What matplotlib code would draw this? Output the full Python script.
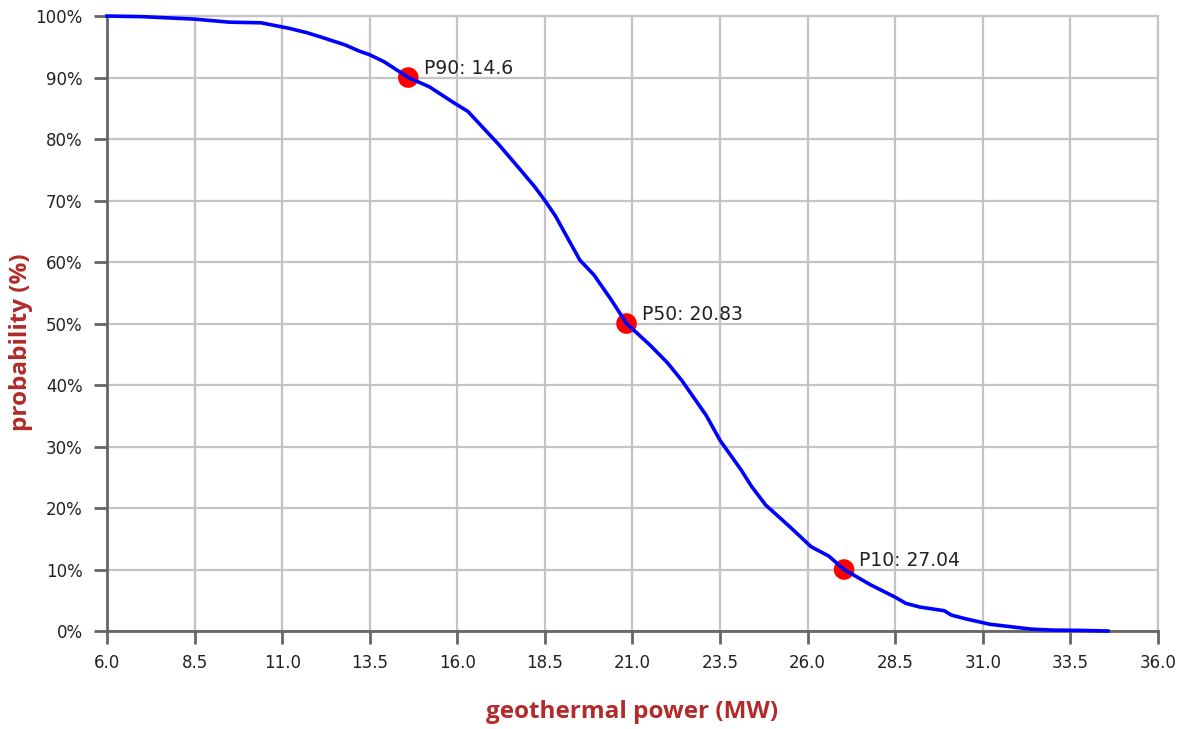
import matplotlib
matplotlib.use("Agg")
import matplotlib.pyplot as plt
from matplotlib.ticker import FuncFormatter

power_mw = [6.0, 7.0, 8.5, 9.5, 10.4, 11.2, 11.7, 12.1, 12.8, 13.2, 13.5, 13.9, 14.2, 14.6,
            15.2, 15.9, 16.3, 16.66, 17.2, 17.8, 18.2, 18.5, 18.8, 19.1, 19.5, 19.9,
            20.4, 20.83, 21.5, 22.0, 22.4, 23.1, 23.5, 24.1, 24.4, 24.8, 25.5, 26.1,
            26.6, 27.04, 27.8, 28.5, 28.8, 29.2, 29.9, 30.1, 30.5, 31.2, 31.8, 32.4,
            33.0, 33.8, 34.57]
probability = [100.0, 99.9, 99.5, 99.0, 98.9, 98.0, 97.3, 96.6, 95.3, 94.3, 93.7, 92.6, 91.5, 90.0,
               88.5, 85.9, 84.5, 82.3, 79.0, 75.0, 72.3, 70.0, 67.5, 64.4, 60.3, 57.9,
               53.8, 50.0, 46.5, 43.6, 40.8, 35.1, 31.0, 26.2, 23.5, 20.5, 16.9, 13.7,
               12.2, 10.0, 7.5, 5.5, 4.5, 3.9, 3.3, 2.6, 2.0, 1.1, 0.7, 0.3,
               0.15, 0.1, 0.0]

p_labels = ["P90", "P50", "P10"]
p_values = [14.6, 20.83, 27.04]
p_probs = [90, 50, 10]

x_ticks = [6.0, 8.5, 11.0, 13.5, 16.0, 18.5, 21.0, 23.5, 26.0, 28.5, 31.0, 33.5, 36.0]
y_ticks = [0, 10, 20, 30, 40, 50, 60, 70, 80, 90, 100]

plt.rcParams["font.family"] = ["DejaVu Sans"]

fig = plt.figure(figsize=(11.98, 7.29), dpi=100)
ax = fig.add_axes([0.0893, 0.1344, 0.8773, 0.8436])

grid_c = "#c4c4c4"
ax.set_xlim(6.0, 36.0)
ax.set_ylim(0, 100)
ax.set_xticks(x_ticks)
ax.set_yticks(y_ticks)
ax.xaxis.set_major_formatter(FuncFormatter(lambda v, p: f"{v:.1f}"))
ax.yaxis.set_major_formatter(FuncFormatter(lambda v, p: f"{int(v)}%"))
ax.grid(True, color=grid_c, linewidth=1.6)
ax.set_axisbelow(True)
for s in ["top", "right"]:
    ax.spines[s].set_color(grid_c)
    ax.spines[s].set_linewidth(1.6)
for s in ["left", "bottom"]:
    ax.spines[s].set_color("#666666")
    ax.spines[s].set_linewidth(2.0)
ax.tick_params(axis="both", direction="out", length=9.5, width=2.0, color="#666666",
               labelsize=12, labelcolor="#222222")
ax.tick_params(axis="y", pad=8)
ax.tick_params(axis="x", pad=7)

ax.plot(power_mw, probability, color="#0000ff", linewidth=2.6, zorder=4, clip_on=False)
ax.scatter(p_values, p_probs, s=220, color="#ff0000", zorder=3, edgecolors="none")
for lab, v, pr in zip(p_labels, p_values, p_probs):
    ax.annotate(f"{lab}: {v:g}", (v, pr), xytext=(11, 0), textcoords="offset points",
                fontsize=13.5, color="#222222", va="bottom", ha="left", zorder=5)

lab_c = "#b22a2a"
ax.set_xlabel("geothermal power (MW)", fontsize=17.5, fontweight="bold", color=lab_c,
              family="Open Sans", labelpad=20)
ax.set_ylabel("probability (%)", fontsize=17.5, fontweight="bold", color=lab_c,
              family="Open Sans")
ax.yaxis.set_label_coords(-0.07, 0.47)

fig.savefig("out.png", dpi=100)
